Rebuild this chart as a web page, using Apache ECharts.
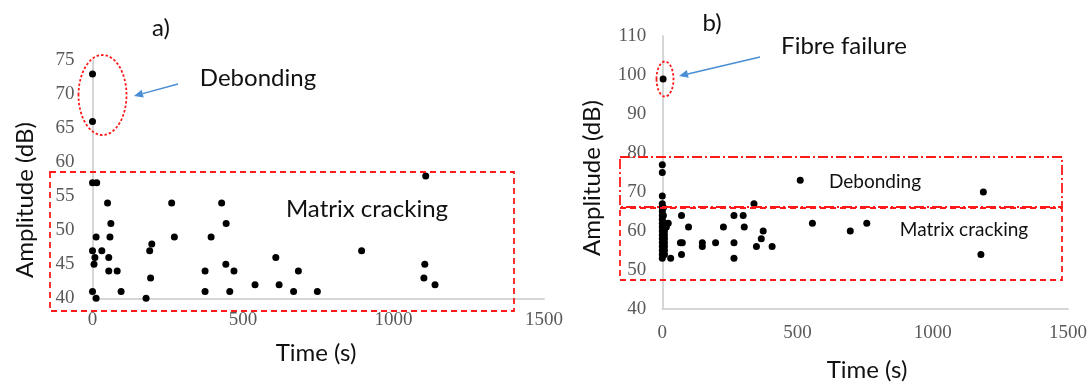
<!DOCTYPE html>
<html>
<head>
<meta charset="utf-8">
<script src="https://cdn.jsdelivr.net/npm/echarts@6/dist/echarts.min.js"></script>
<style>
html,body{margin:0;padding:0;background:#fff;}
#chart{width:1091px;height:383px;}
</style>
</head>
<body>
<div id="chart"></div>
<script>
// ---- Panel a) ----
const leftTime = [0, 0, 0, 14, 50, 263, 429, 61, 444, 12, 58, 272, 394, 197, 0, 31, 190, 894, 8, 54, 609, 5, 443, 1104, 54, 82, 374, 470, 684, 193, 1101, 540, 620, 1138, 0, 95, 374, 456, 668, 747, 12, 178, 1107];
const leftAmp  = [73, 66, 57, 57, 54, 54, 54, 51, 51, 49, 49, 49, 49, 48, 47, 47, 47, 47, 46, 46, 46, 45, 45, 45, 44, 44, 44, 44, 44, 43, 43, 42, 42, 42, 41, 41, 41, 41, 41, 41, 40, 40, 58];

// ---- Panel b) ----
const rightTime = [3, 0, 0, 0, 0, 0, 0, 0, 0, 0, 0, 0, 0, 0, 0, 0, 0, 0, 0,
  8, 8, 8, 8, 8, 8, 8, 8, 8, 4, 4, 22, 15, 31,
  71, 67, 74, 71, 97, 148, 148, 197, 226, 265, 265, 265, 299, 303, 339, 348, 366, 373, 406, 510, 555, 695, 756, 1187, 1178];
const rightAmp = [99, 77, 75, 69, 67, 66, 65, 64, 63, 62, 61, 60, 59, 58, 57, 56, 55, 54, 53,
  62, 61, 60, 59, 58, 57, 56, 55, 54, 66, 64, 62, 61, 53,
  64, 57, 57, 54, 61, 57, 56, 57, 61, 64, 57, 53, 64, 61, 67, 56, 58, 60, 56, 73, 62, 60, 62, 70, 54];

const xTicksA = [0, 500, 1000, 1500];
const yRangeA = [40, 75];
const yRangeB = [40, 110];

const leftData = leftTime.map((t, i) => [t, leftAmp[i]]);
const rightData = rightTime.map((t, i) => [t, rightAmp[i]]);

const chart = echarts.init(document.getElementById('chart'), null, {renderer: 'canvas'});

const tickFont = {fontFamily: '"Liberation Serif", "Times New Roman", serif', fontSize: 19, color: '#595959'};
const axisLineStyle = {color: '#d6d6d6', width: 2};
const sansFont = 'Lato';

function plain(v) { return String(v); }

function xAxisCfg(gi, margin) {
  return {
    gridIndex: gi, type: 'value', min: xTicksA[0], max: xTicksA[xTicksA.length - 1], interval: 500,
    axisLine: {show: true, onZero: false, lineStyle: axisLineStyle},
    axisTick: {show: false}, splitLine: {show: false},
    axisLabel: Object.assign({margin: margin, formatter: plain}, tickFont)
  };
}
function yAxisCfg(gi, range, interval, margin) {
  return {
    gridIndex: gi, type: 'value', min: range[0], max: range[1], interval: interval,
    axisLine: {show: true, onZero: false, lineStyle: axisLineStyle},
    axisTick: {show: false}, splitLine: {show: false},
    axisLabel: Object.assign({margin: margin, formatter: plain}, tickFont)
  };
}

function arrow(x1, y1, x2, y2, color) {
  const dx = x2 - x1, dy = y2 - y1, len = Math.sqrt(dx * dx + dy * dy);
  const ux = dx / len, uy = dy / len, nx = -uy, ny = ux;
  const hl = 9, hw = 4;
  const bx = x2 - ux * hl, by = y2 - uy * hl;
  return [
    {type: 'line', shape: {x1: x1, y1: y1, x2: bx, y2: by}, style: {stroke: color, lineWidth: 1.5}, z: 10},
    {type: 'polygon', shape: {points: [[x2, y2], [bx + nx * hw, by + ny * hw], [bx - nx * hw, by - ny * hw]]}, style: {fill: color}, z: 10}
  ];
}
function txt(x, y, s, size, opts) {
  return Object.assign({
    type: 'text', x: x, y: y, z: 10,
    style: {text: s, fontFamily: sansFont, fontSize: size, fill: '#111', textAlign: 'center', textVerticalAlign: 'middle'}
  }, opts || {});
}
const red = '#ff1a1a';
const blue = '#4a8ed6';

const graphics = [].concat(
  // panel a annotations
  [
    {type: 'ellipse', shape: {cx: 102.5, cy: 95, rx: 24, ry: 40}, style: {fill: 'none', stroke: red, lineWidth: 1.8, lineDash: [2.5, 2]}, z: 10},
    {type: 'rect', shape: {x: 50, y: 172, width: 464, height: 139}, style: {fill: 'none', stroke: red, lineWidth: 1.8, lineDash: [6, 4]}, z: 10},
    txt(258, 78, 'Debonding', 24),
    txt(367, 209, 'Matrix cracking', 24),
    txt(161, 28, 'a)', 24),
    txt(316, 353, 'Time (s)', 24),
    txt(25, 200, 'Amplitude (dB)', 24, {rotation: Math.PI / 2})
  ],
  arrow(178, 84, 134, 96, blue),
  // panel b annotations
  [
    {type: 'ellipse', shape: {cx: 665, cy: 79, rx: 8.5, ry: 17.5}, style: {fill: 'none', stroke: red, lineWidth: 1.8, lineDash: [2.5, 2]}, z: 10},
    {type: 'rect', shape: {x: 620, y: 157, width: 442, height: 50}, style: {fill: 'none', stroke: red, lineWidth: 1.8, lineDash: [10, 3, 2, 3]}, z: 10},
    {type: 'rect', shape: {x: 620, y: 208, width: 442, height: 72}, style: {fill: 'none', stroke: red, lineWidth: 1.8, lineDash: [6, 4]}, z: 10},
    txt(844, 46, 'Fibre failure', 24),
    txt(875, 182, 'Debonding', 19),
    txt(964, 230, 'Matrix cracking', 19),
    txt(712, 23, 'b)', 24),
    txt(867, 370, 'Time (s)', 24),
    txt(592, 178, 'Amplitude (dB)', 24, {rotation: Math.PI / 2})
  ],
  arrow(760, 57, 679, 76, blue)
);

chart.setOption({
  animation: false,
  backgroundColor: '#ffffff',
  grid: [
    {left: 92.5, top: 60.3, width: 451.5, height: 238},
    {left: 662.3, top: 36, width: 405.7, height: 273}
  ],
  xAxis: [xAxisCfg(0, 12), xAxisCfg(1, 15)],
  yAxis: [yAxisCfg(0, yRangeA, 5, 18), yAxisCfg(1, yRangeB, 10, 16)],
  series: [
    {type: 'scatter', xAxisIndex: 0, yAxisIndex: 0, data: leftData, symbol: 'circle', symbolSize: 7, itemStyle: {color: '#000', opacity: 1}, z: 5},
    {type: 'scatter', xAxisIndex: 1, yAxisIndex: 1, data: rightData, symbol: 'circle', symbolSize: 7, itemStyle: {color: '#000', opacity: 1}, z: 5}
  ],
  graphic: graphics
});
</script>
</body>
</html>
